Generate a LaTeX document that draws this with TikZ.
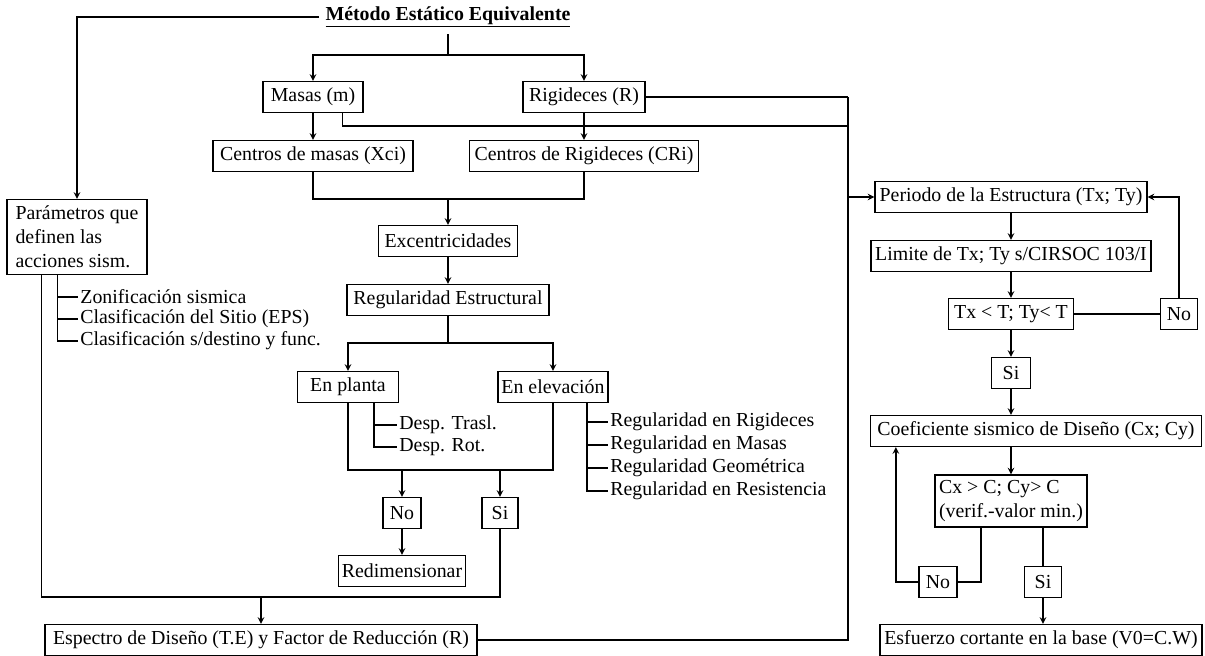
\documentclass[tikz,border=0pt]{standalone}
\usepackage{fontspec}
\setmainfont{Liberation Serif}
\usetikzlibrary{calc,positioning}

\begin{document}
\begin{tikzpicture}[>=stealth, x=0.02cm, y=-0.02cm, line width=0.7pt, font=\fontsize{11.3}{13.6}\selectfont]
    \tikzstyle{box}=[draw, rectangle, inner sep=2pt, minimum height=0.62cm]
    \tikzstyle{item}=[anchor=west, inner sep=1pt]
    \useasboundingbox (0,0) rectangle (1205,656);

    % Title
    \node (metodo) at (448,17) {\textbf{\underline{Método Estático Equivalente}}};

    % Masas and rigideces
    \node (masas)[box, minimum width=2cm] at (313,97) {Masas (m)};
    \node (rig)[box, minimum width=2.44cm] at (584,97) {Rigideces (R)};
    \node (cmasas)[box, minimum width=4cm] at (313,156) {Centros de masas (Xci)};
    \node (crig)[box, minimum width=4.58cm] at (584,156) {Centros de Rigideces (CRi)};

    % Excentricidades and regularidad
    \node (exc)[box, minimum width=2.78cm] at (448,241) {Excentricidades};
    \node (reg)[box, minimum width=4.04cm] at (448,300) {Regularidad Estructural};
    \node (planta)[box, minimum width=2.02cm] at (348,387) {En planta};
    \node (elev)[box, minimum width=2.16cm] at (553,387) {En elevación};
    \node (no1)[box, minimum width=0.76cm] at (402,513) {No};
    \node (si1)[box, minimum width=0.72cm] at (500,513) {Si};
    \node (redim)[box, minimum width=2.48cm] at (402,571) {Redimensionar};

    % Parametros sismicos and espectro
    \node (param)[box, align=left, minimum width=2.8cm, minimum height=1.5cm] at (77,237)
        {Parámetros que\\definen las\\acciones sism.};
    \node (esp)[box, minimum width=8.64cm] at (261,640) {Espectro de Diseño (T.E) y Factor de Reducción (R)};

    % Right column
    \node (periodo)[box, minimum width=5.44cm] at (1011,197) {Periodo de la Estructura (Tx; Ty)};
    \node (limite)[box, minimum width=5.6cm] at (1011,256) {Limite de Tx; Ty s/CIRSOC 103/I};
    \node (tx)[box, minimum width=2.5cm] at (1011,314) {Tx < T; Ty< T};
    \node (no2)[box, minimum width=0.74cm] at (1179,314) {No};
    \node (si2)[box, minimum width=0.78cm] at (1011,373) {Si};
    \node (coef)[box, minimum width=6.62cm] at (1036,431) {Coeficiente sismico de Diseño (Cx; Cy)};
    \node (cx)[box, align=left, minimum width=3.04cm, minimum height=1.04cm] at (1011,501)
        {Cx > C; Cy> C\\(verif.-valor min.)};
    \node (no3)[box, minimum width=0.76cm] at (938,582) {No};
    \node (si3)[box, minimum width=0.74cm] at (1043,582) {Si};
    \node (esf)[box, minimum width=6.44cm] at (1041,640) {Esfuerzo cortante en la base (V0=C.W)};

    % Lists of items
    \node (par1)[item] at (78,297) {Zonificación sismica};
    \node (par2)[item] at (78,319) {Clasificación del Sitio (EPS)};
    \node (par3)[item] at (78,341) {Clasificación s/destino y func.};
    \node (desp1)[item] at (397,425) {Desp. Trasl.};
    \node (desp2)[item] at (397,447) {Desp. Rot.};
    \foreach \t [count=\i] in {Regularidad en Rigideces, Regularidad en Masas, Regularidad Geométrica, Regularidad en Resistencia}
        \node (ereg\i)[item] at (608,{422+23*(\i-1)}) {\t};

    % Junction points
    \coordinate (s1) at (448,55);
    \coordinate (j1) at (448,199);
    \coordinate (j2) at (448,343);
    \coordinate (j3) at (450,470);
    \coordinate (j4) at (261,597);
    \coordinate (t1) at (848,97);
    \coordinate (t3) at (848,126);
    \coordinate (pb) at ($(planta.south)+(26,0)$);
    \coordinate (eb) at ($(elev.south)+(34,0)$);
    \coordinate (pp) at ($(param.south west)+(51,0)$);

    % Connectors from the title
    \draw[->] (metodo.west) -| (param.north);
    \draw (metodo.south) -- (s1);
    \draw[->] (s1) -| (masas.north);
    \draw[->] (s1) -| (rig.north);

    % Centros and excentricidades
    \draw[->] (masas) -- (cmasas);
    \draw[->] (rig) -- (crig);
    \draw (cmasas.south) |- (j1) -| (crig.south);
    \draw[->] (j1) -- (exc.north);
    \draw[->] (exc) -- (reg);
    \draw (reg.south) -- (j2);
    \draw[->] (j2) -| (planta.north);
    \draw[->] (j2) -| (elev.north);

    % Regularidad en planta / elevacion
    \draw (planta.south) |- (j3) -| (elev.south);
    \draw[->] (no1.north |- j3) -- (no1.north);
    \draw[->] (si1.north |- j3) -- (si1.north);
    \draw[->] (no1) -- (redim);
    \draw (pb) |- (desp2.west);
    \draw (pb |- desp1.west) -- (desp1.west);
    \draw (eb) |- (ereg4.west);
    \foreach \i in {1,2,3}
        \draw (eb |- ereg\i.west) -- (ereg\i.west);

    % Parametros
    \draw (pp) |- (par3.west);
    \draw (pp |- par1.west) -- (par1.west);
    \draw (pp |- par2.west) -- (par2.west);
    \draw ($(param.south west)+(35,0)$) |- (j4);
    \draw (si1.south) |- (j4);
    \draw[->] (j4) -- (esp.north);

    % Trunk to the right column
    \draw (rig.east) -- (t1);
    \draw (esp.east) -| (t1);
    \draw ($(masas.south east)+(-21,0)$) |- (t3);
    \draw[->] (periodo.west -| t1) -- (periodo.west);

    % Right column
    \draw[->] (periodo) -- (limite);
    \draw[->] (limite) -- (tx);
    \draw (tx.east) -- (no2.west);
    \draw[->] (no2.north) |- (periodo.east);
    \draw[->] (tx) -- (si2);
    \draw[->] (si2.south) -- (si2.south |- coef.north);
    \draw[->] (si2.south |- coef.south) -- (cx.north);
    \draw ($(cx.south)+(-30,0)$) |- (no3.east);
    \draw[->] (no3.west) -| ($(coef.south west)+(26,0)$);
    \draw (si3.north |- cx.south) -- (si3.north);
    \draw[->] (si3.south) -- (si3.south |- esf.north);
\end{tikzpicture}
\end{document}
